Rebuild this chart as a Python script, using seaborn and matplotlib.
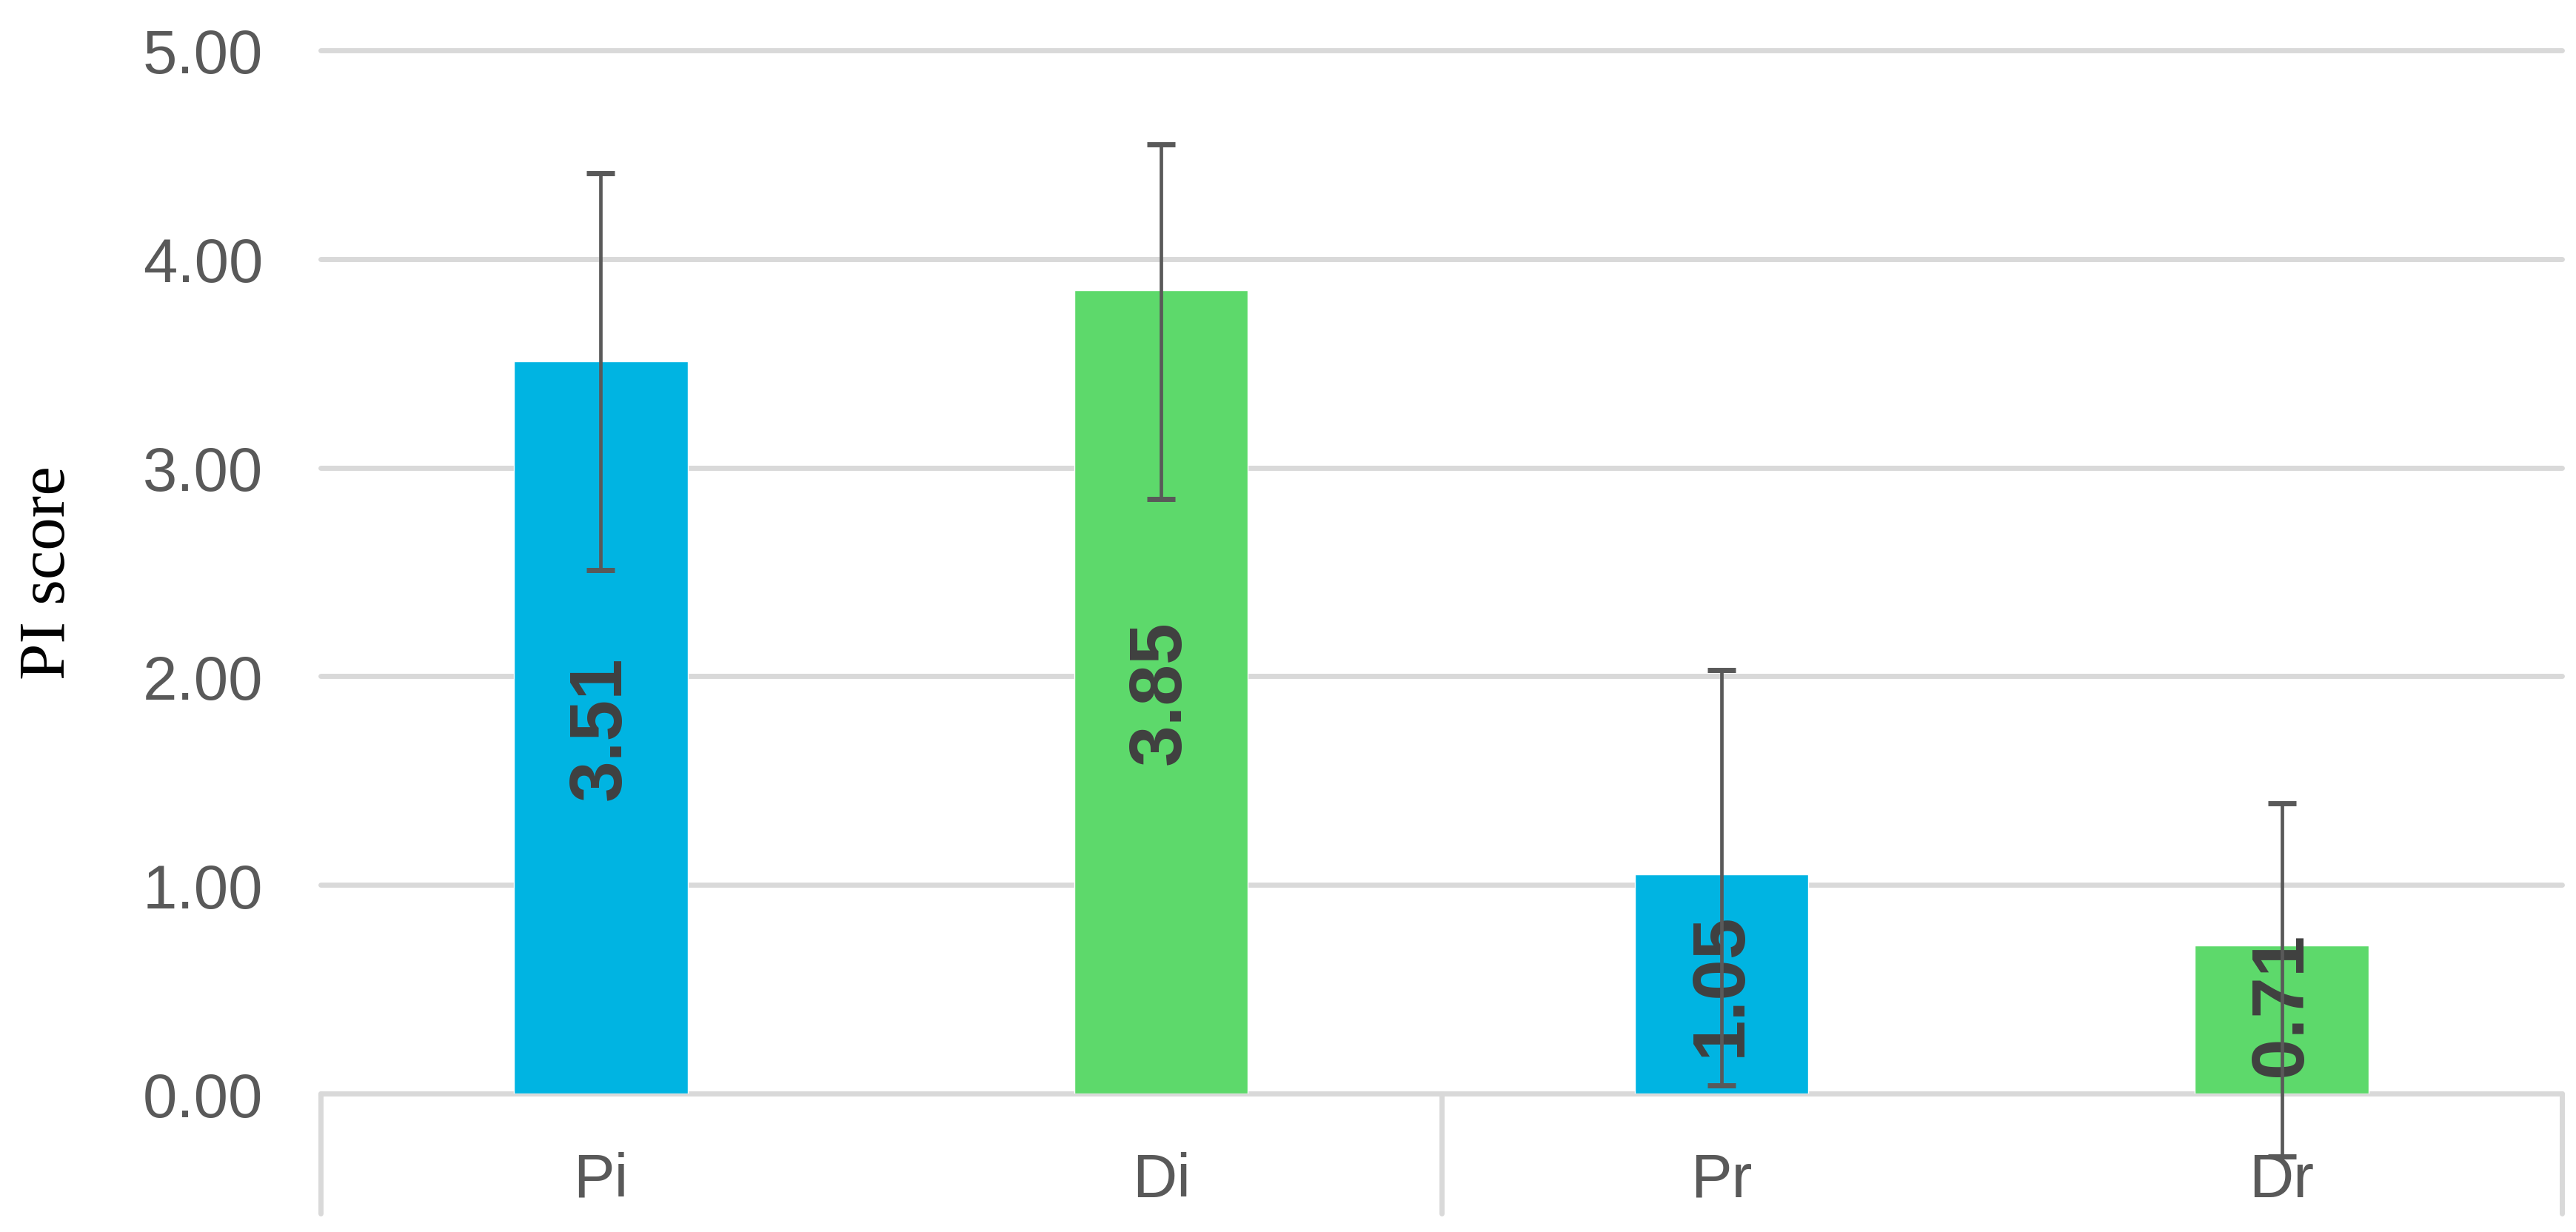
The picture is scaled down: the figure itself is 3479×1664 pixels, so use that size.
import numpy as np
import pandas as pd
import matplotlib
matplotlib.use('Agg')
import matplotlib.pyplot as plt
import matplotlib.transforms as mtransforms
import seaborn as sns

categories = ['Pi', 'Di', 'Pr', 'Dr']
pi_scores = [3.51, 3.85, 1.05, 0.71]
err_upper = [0.90, 0.70, 0.98, 0.68]
err_lower = [1.00, 1.00, 1.01, 1.01]
bar_colors = ['#00B4E2', '#5DD96B', '#00B4E2', '#5DD96B']
y_ticks = [0, 1, 2, 3, 4, 5]

sns.set_theme(style='white')
plt.rcParams['font.family'] = ['Liberation Sans', 'DejaVu Sans']

df = pd.DataFrame({'group': categories, 'score': pi_scores})

fig = plt.figure(figsize=(34.79, 16.65), dpi=100)
ax = fig.add_axes([0.1245, 0.1123, 0.8700, 0.8463])

sns.barplot(data=df, x='group', y='score', hue='group', palette=bar_colors,
            order=categories, hue_order=categories, width=0.31, saturation=1,
            legend=False, ax=ax, zorder=2)

ax.errorbar(np.arange(len(categories)), pi_scores, yerr=[err_lower, err_upper],
            fmt='none', ecolor='#595959', elinewidth=3.4, capsize=14, capthick=5,
            zorder=4, clip_on=False)

# value labels inside the bars, rotated
for i, v in enumerate(pi_scores):
    ax.text(i, max(v / 2, 0.43), f'{v:.2f}', rotation=90, ha='center', va='center',
            fontsize=72, fontweight='bold', color='#404040', zorder=3)

ax.set_xlim(-0.5, len(categories) - 0.5)
ax.set_ylim(0, 5)
ax.set_yticks(y_ticks)
ax.set_yticklabels([f'{t:.2f}' for t in y_ticks])
ax.tick_params(axis='y', length=0, pad=56, labelsize=60, labelcolor='#595959')
ax.tick_params(axis='x', length=0, pad=56, labelsize=60, labelcolor='#595959')
ax.set_xlabel('')
ax.set_ylabel('PI score', family=['Liberation Serif', 'DejaVu Serif'], fontsize=64,
              color='black')
ax.yaxis.set_label_coords(-0.108, 0.5)

ax.yaxis.grid(True, color='#D9D9D9', linewidth=5, zorder=0)
ax.xaxis.grid(False)
for gl in ax.get_ygridlines():
    gl.set_clip_on(False)
ax.set_axisbelow(True)
for s in ax.spines.values():
    s.set_visible(False)

# category box lines below the axis
trans = mtransforms.blended_transform_factory(ax.transData, ax.transAxes)
for xs in [-0.5, 1.5, 3.5]:
    ax.plot([xs, xs], [0, -0.115], transform=trans, color='#D9D9D9',
            linewidth=5, clip_on=False, zorder=1)

fig.savefig('out.png', dpi=100, facecolor='white')
